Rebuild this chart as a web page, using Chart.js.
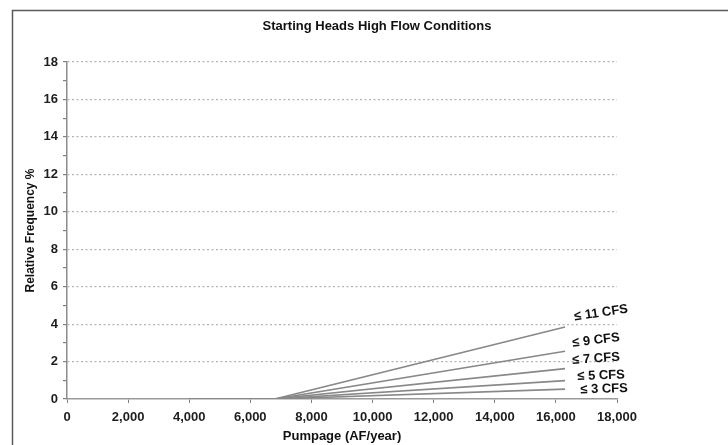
<!DOCTYPE html>
<html><head><meta charset="utf-8">
<script src="https://cdn.jsdelivr.net/npm/chart.js@4/dist/chart.umd.min.js"></script>
<style>html,body{margin:0;padding:0;background:#fff}#wrap{position:relative;width:728px;height:445px}</style>
</head><body><div id="wrap"><canvas id="c" width="728" height="445"></canvas></div>
<script>
const chartTitle = 'Starting Heads High Flow Conditions';
const xTitle = 'Pumpage (AF/year)';
const yTitle = 'Relative Frequency %';
const seriesLabels = ['≤ 11 CFS', '≤ 9 CFS', '≤ 7 CFS', '≤ 5 CFS', '≤ 3 CFS'];
const pumpage = [4000, 6800, 16300];
const cfs11 = [0, 0, 3.85];
const cfs9 = [0, 0, 2.55];
const cfs7 = [0, 0, 1.62];
const cfs5 = [0, 0, 0.98];
const cfs3 = [0, 0, 0.53];
const xTickValues = [0, 2000, 4000, 6000, 8000, 10000, 12000, 14000, 16000, 18000];
const yTickLabels = ['0', '2', '4', '6', '8', '10', '12', '14', '16', '18'];

const series = [cfs11, cfs9, cfs7, cfs5, cfs3];
// label style: [dx, dy, rotation deg]
const labelStyle = [[36, -14, -8.5], [31, -11, -7], [31, -10, -4], [36, -5, -2], [39, 0, -2]];

const FONT = "'Liberation Sans', Arial, sans-serif";

const decor = {
  id: 'decor',
  beforeDraw(chart) {
    const ctx = chart.ctx;
    ctx.save();
    ctx.strokeStyle = '#5a5a5a';
    ctx.lineWidth = 1.5;
    ctx.beginPath();
    ctx.moveTo(12.5, 445);
    ctx.lineTo(12.5, 10.5);
    ctx.lineTo(728, 10.5);
    ctx.stroke();
    ctx.fillStyle = '#111';
    ctx.font = 'bold 13px ' + FONT;
    ctx.textAlign = 'center';
    ctx.textBaseline = 'middle';
    ctx.fillText(chartTitle, 377, 26);
    ctx.restore();
  },
  afterDatasetsDraw(chart) {
    const ctx = chart.ctx;
    ctx.save();
    ctx.fillStyle = '#111';
    ctx.font = 'bold 13px ' + FONT;
    ctx.textAlign = 'center';
    ctx.textBaseline = 'middle';
    chart.data.datasets.forEach((ds, i) => {
      const meta = chart.getDatasetMeta(i);
      const pt = meta.data[meta.data.length - 1];
      const st = labelStyle[i];
      ctx.save();
      ctx.translate(pt.x + st[0], pt.y + st[1]);
      ctx.rotate(st[2] * Math.PI / 180);
      ctx.fillText(seriesLabels[i], 0, 0);
      ctx.restore();
    });
    ctx.restore();
  }
};

new Chart(document.getElementById('c'), {
  type: 'scatter',
  data: {
    datasets: series.map((vals, i) => ({
      label: seriesLabels[i],
      data: pumpage.map((x, j) => ({x: x, y: vals[j]})),
      showLine: true,
      borderColor: '#888888',
      borderWidth: 1.6,
      pointRadius: 0,
      fill: false,
      tension: 0
    }))
  },
  options: {
    responsive: false,
    animation: false,
    devicePixelRatio: 1,
    layout: {padding: {top: 62, right: 111, left: 0, bottom: 0}},
    plugins: {legend: {display: false}, tooltip: {enabled: false}, title: {display: false}},
    scales: {
      x: {
        type: 'linear', min: 0, max: 18000,
        afterFit: s => { s.height = 46; },
        afterBuildTicks: s => { s.ticks = xTickValues.map(v => ({value: v})); },
        ticks: {
          font: {family: FONT, size: 13, weight: 'bold'}, color: '#1e1e1e', padding: 7,
          maxRotation: 0, autoSkip: false,
          callback: v => v.toLocaleString('en-US')
        },
        grid: {color: 'rgba(0,0,0,0)', tickColor: '#808080', tickLength: 4, drawOnChartArea: false},
        border: {color: '#9a9a9a', width: 1.5},
        title: {display: true, text: xTitle, font: {family: FONT, size: 13, weight: 'bold'}, color: '#111', padding: {top: 0, bottom: 1}}
      },
      y: {
        type: 'linear', min: 0, max: 18,
        afterFit: s => { s.width = 67; },
        afterBuildTicks: s => { const t = []; for (let v = 0; v <= 18; v++) t.push({value: v}); s.ticks = t; },
        ticks: {
          font: {family: FONT, size: 13, weight: 'bold'}, color: '#1e1e1e', padding: 5, autoSkip: false,
          callback: v => (v % 2 === 0 ? yTickLabels[v / 2] : '')
        },
        grid: {
          color: c => (c.tick && c.tick.value > 0 && c.tick.value % 2 === 0) ? '#b4b4b4' : 'rgba(0,0,0,0)',
          tickColor: '#808080', tickLength: 4, lineWidth: 1.2
        },
        border: {color: '#8c8c8c', width: 1.5, dash: [2, 2.5]},
        title: {display: true, text: yTitle, font: {family: FONT, size: 12, weight: 'bold'}, color: '#111', padding: {top: 23, bottom: 0}}
      }
    }
  },
  plugins: [decor]
});
</script></body></html>
